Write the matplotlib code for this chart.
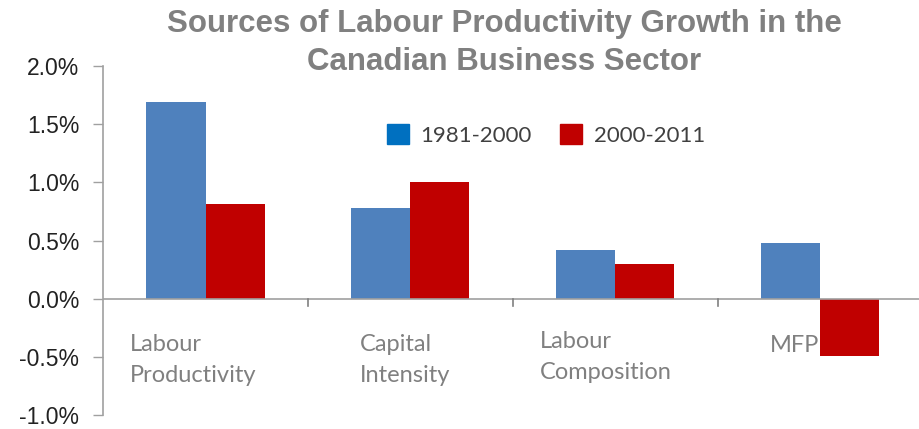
import matplotlib
matplotlib.use("Agg")
import matplotlib.pyplot as plt
import numpy as np
from matplotlib.patches import Patch

# growth sources, % per year
categories = ["Labour\nProductivity", "Capital\nIntensity", "Labour\nComposition", "MFP"]
series_names = ["1981-2000", "2000-2011"]
early = [1.69, 0.78, 0.42, 0.48]
late = [0.81, 1.00, 0.30, -0.49]
yticks = [-1.0, -0.5, 0.0, 0.5, 1.0, 1.5, 2.0]

blue = "#4F81BD"
red = "#C00000"
axis_grey = "#A0A0A0"

fig = plt.figure(figsize=(9.2, 4.29), dpi=100)
ax = fig.add_axes([0.112, 0.0326, 0.891, 0.8135])

x = np.arange(len(categories))
w = 0.288
ax.bar(x - w/2, early, w, color=blue, zorder=2)
ax.bar(x + w/2, late, w, color=red, zorder=2)

ax.set_xlim(-0.5, 3.5)
ax.set_ylim(-1.0, 2.0)
ax.set_yticks(yticks)
ax.set_yticklabels(["%.1f%%" % v for v in yticks], fontsize=16.5,
                   family="Liberation Sans", color="#222222")
ax.tick_params(axis="y", length=7, color=axis_grey, width=1, pad=10)

# category axis sits at zero with ticks between groups
ax.axhline(0, color=axis_grey, lw=1.2, zorder=3)
ax.set_xticks([])
for b in [0.5, 1.5, 2.5]:
    ax.plot([b, b], [0, -0.06], color="#808080", lw=1.2, zorder=3, clip_on=False)

for s in ["top", "right", "bottom"]:
    ax.spines[s].set_visible(False)
ax.spines["left"].set_color(axis_grey)
ax.spines["left"].set_linewidth(1.2)

# category labels hang below the zero line
label_pos = [(-0.368, -0.30), (0.754, -0.30), (1.632, -0.275), (2.754, -0.315)]
for lab, (lx, ly) in zip(categories, label_pos):
    ax.text(lx, ly, lab, ha="left", va="top", fontsize=17, family="Lato",
            color="#808080", linespacing=1.6)

handles = [Patch(color="#0070C0"), Patch(color=red)]
leg = ax.legend(handles, series_names, loc="upper left", bbox_to_anchor=(0.3215, 0.891),
                ncol=2, frameon=False, handlelength=1.0, handleheight=1.0,
                handletextpad=0.5, columnspacing=1.3,
                prop={"family": "Lato", "size": 16})
for t in leg.get_texts():
    t.set_color("#404040")

fig.text(0.548, 0.98, "Sources of Labour Productivity Growth in the\nCanadian Business Sector",
         ha="center", va="top", fontsize=22.5, fontweight="bold", color="#808080",
         family="Liberation Sans", linespacing=1.35)

fig.savefig("out.png", dpi=100)
